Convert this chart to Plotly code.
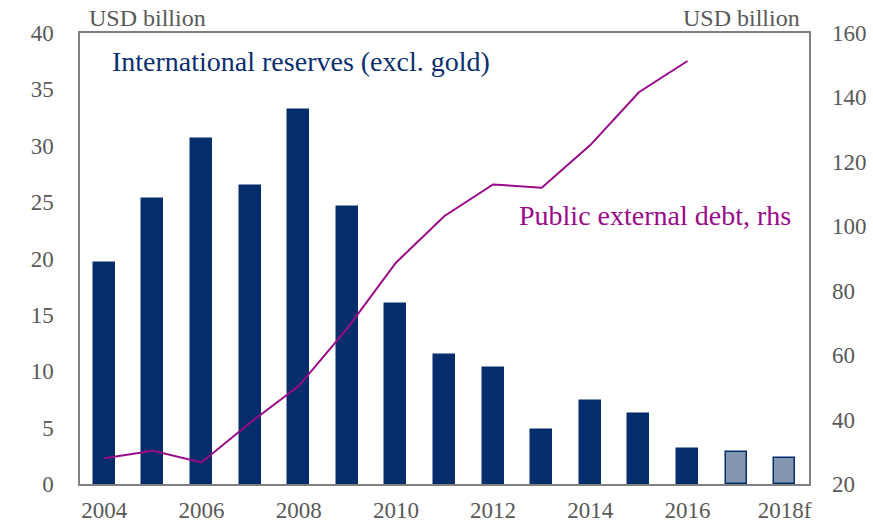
import plotly.graph_objects as go

# Annual data, USD billion
years = list(range(2004, 2019))
reserves = [19.6, 25.3, 30.6, 26.4, 33.2, 24.6, 16.0, 11.4, 10.3, 4.8, 7.4, 6.2, 3.1, 2.8, 2.3]
is_forecast = [False] * 13 + [True, True]
public_debt = [28.0, 30.3, 26.7, 39.0, 50.4, 68.3, 88.7, 103.2, 113.0, 112.0, 125.2, 141.6, 151.3, None, None]

x_tickvals = [2004, 2006, 2008, 2010, 2012, 2014, 2016, 2018]
x_ticktext = ["2004", "2006", "2008", "2010", "2012", "2014", "2016", "2018f"]
left_ticks = [0, 5, 10, 15, 20, 25, 30, 35, 40]
right_ticks = [20, 40, 60, 80, 100, 120, 140, 160]

NAVY = "#052c6b"
FORECAST = "#8497b0"
PURPLE = "#9b0a8a"
GREY = "#595959"
FONT = "Liberation Serif"

bar_colors = [FORECAST if f else NAVY for f in is_forecast]

fig = go.Figure()
fig.add_trace(go.Bar(
    x=years, y=reserves, width=0.43,
    marker=dict(color=bar_colors, line=dict(color=NAVY, width=1.5)),
    showlegend=False,
))
fig.add_trace(go.Scatter(
    x=years, y=public_debt, yaxis="y2", mode="lines",
    line=dict(color=PURPLE, width=2),
    showlegend=False,
))

fig.update_layout(
    width=873, height=527,
    margin=dict(l=80, r=64, t=33, b=43),
    plot_bgcolor="white", paper_bgcolor="white",
    font=dict(family=FONT, color=GREY, size=23),
    bargap=0,
    xaxis=dict(
        range=[2003.5, 2018.5], tickvals=x_tickvals, ticktext=x_ticktext,
        showgrid=False, ticks="", ticklabelstandoff=5, automargin=False,
        showline=True, linecolor="#808080", linewidth=1.5, mirror=True,
    ),
    yaxis=dict(
        range=[0, 40], tickvals=left_ticks, showgrid=False, zeroline=False,
        ticks="", ticklabelstandoff=20, automargin=False,
        showline=True, linecolor="#808080", linewidth=1.5, mirror=True,
    ),
    yaxis2=dict(
        range=[20, 160], tickvals=right_ticks, overlaying="y", side="right",
        showgrid=False, zeroline=False, ticks="", ticklabelstandoff=22,
        automargin=False, showline=False,
    ),
    annotations=[
        dict(text="USD billion", xref="paper", yref="paper", x=0.0096, y=1.0,
             xanchor="left", yanchor="bottom", showarrow=False,
             font=dict(size=24, color=GREY)),
        dict(text="USD billion", xref="paper", yref="paper", x=0.99, y=1.0,
             xanchor="right", yanchor="bottom", showarrow=False,
             font=dict(size=24, color=GREY)),
        dict(text="International reserves (excl. gold)", xref="paper", yref="paper",
             x=0.041, y=0.936, xanchor="left", yanchor="middle", showarrow=False,
             font=dict(size=28, color="#0b2f6e")),
        dict(text="Public external debt, rhs", xref="paper", yref="paper",
             x=0.978, y=0.596, xanchor="right", yanchor="middle", showarrow=False,
             font=dict(size=28, color=PURPLE)),
    ],
)

fig.write_html("out.html")
